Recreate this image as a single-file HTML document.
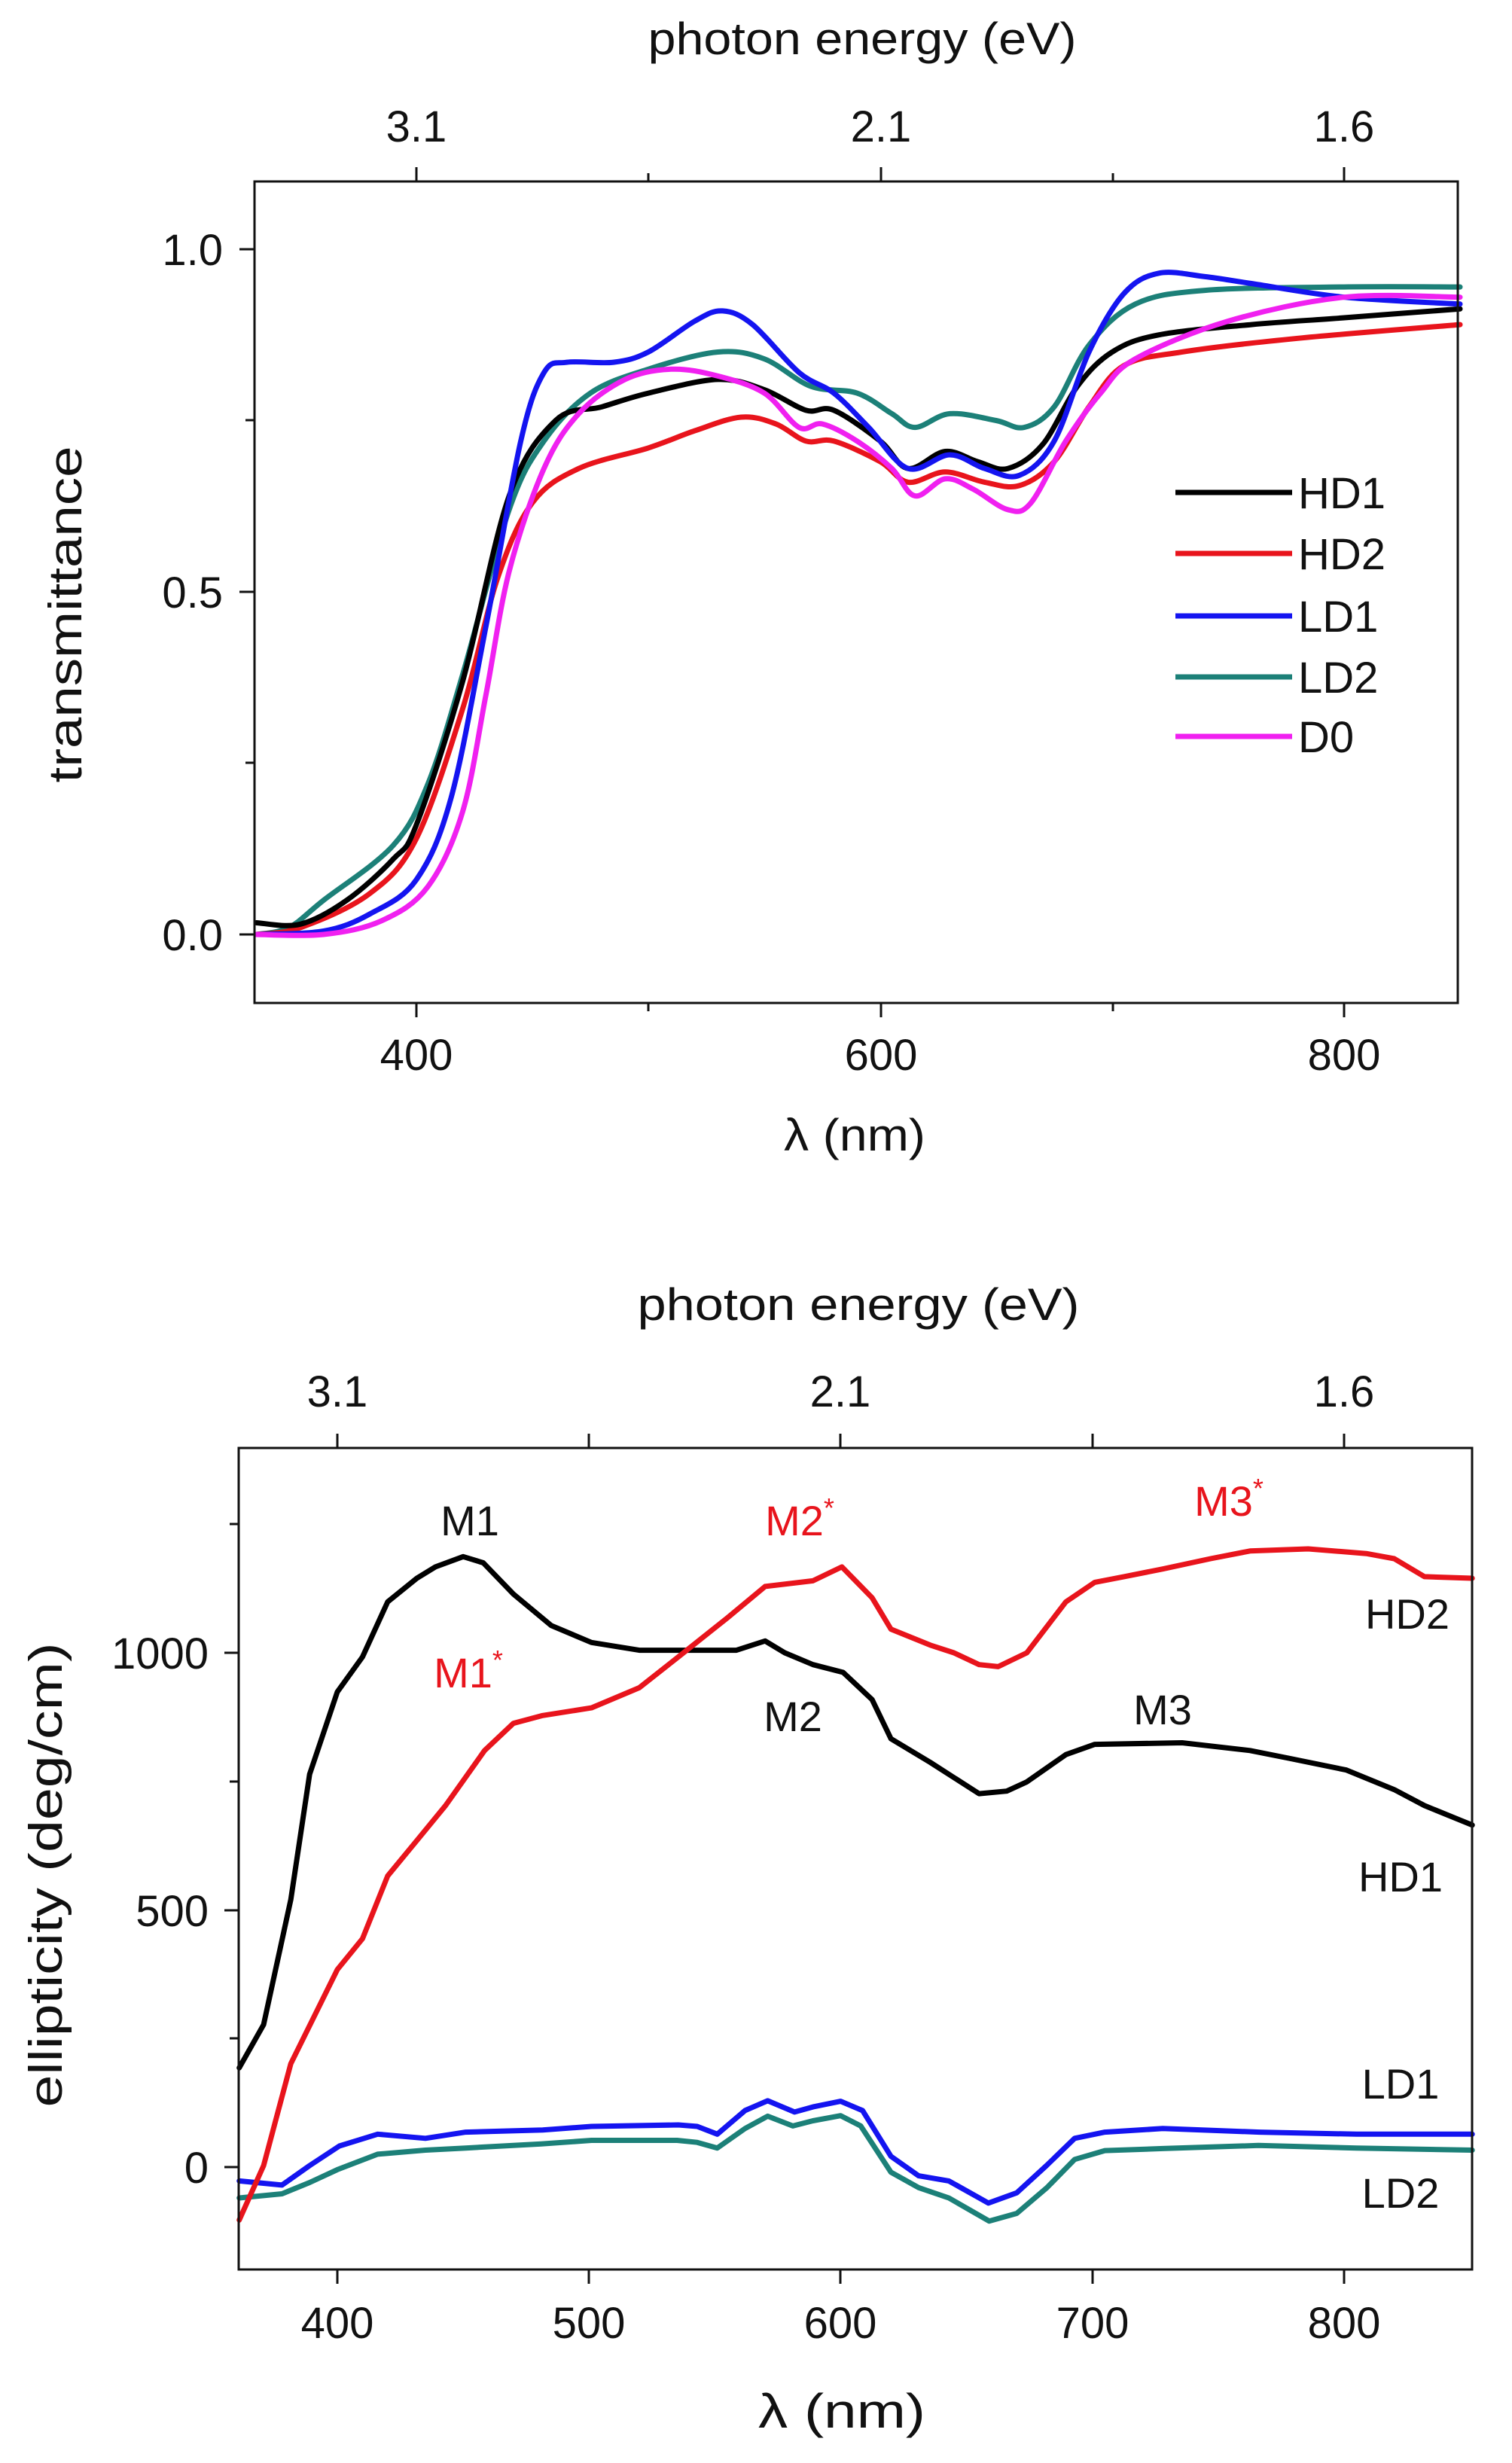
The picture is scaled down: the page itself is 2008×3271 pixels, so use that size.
<!DOCTYPE html>
<html><head><meta charset="utf-8"><style>
html,body{margin:0;padding:0;background:#fff;}
svg{display:block;}
text{font-family:"Liberation Sans",Arial,sans-serif;fill:#111;}
</style></head><body>
<svg id="s" width="2008" height="3271" viewBox="0 0 2008 3271" xmlns="http://www.w3.org/2000/svg">
<rect width="2008" height="3271" fill="#fff"/>
<!-- TOP CHART -->
<text x="1145" y="72" font-size="60" text-anchor="middle" textLength="569" lengthAdjust="spacingAndGlyphs">photon energy (eV)</text>
<text x="553" y="188" font-size="58" text-anchor="middle">3.1</text>
<text x="1170" y="188" font-size="58" text-anchor="middle">2.1</text>
<text x="1785" y="188" font-size="58" text-anchor="middle">1.6</text>
<g stroke="#111" stroke-width="3">
<line x1="553" y1="222" x2="553" y2="241"/><line x1="861" y1="230" x2="861" y2="241"/><line x1="1170" y1="222" x2="1170" y2="241"/><line x1="1478" y1="230" x2="1478" y2="241"/><line x1="1785" y1="222" x2="1785" y2="241"/>
<line x1="553" y1="1332" x2="553" y2="1351"/><line x1="861" y1="1332" x2="861" y2="1343"/><line x1="1170" y1="1332" x2="1170" y2="1351"/><line x1="1478" y1="1332" x2="1478" y2="1343"/><line x1="1785" y1="1332" x2="1785" y2="1351"/>
<line x1="318" y1="331" x2="338" y2="331"/><line x1="326" y1="558" x2="338" y2="558"/><line x1="318" y1="786" x2="338" y2="786"/><line x1="326" y1="1013" x2="338" y2="1013"/><line x1="318" y1="1241" x2="338" y2="1241"/>
</g>
<text x="296" y="352" font-size="58" text-anchor="end">1.0</text>
<text x="296" y="807" font-size="58" text-anchor="end">0.5</text>
<text x="296" y="1262" font-size="58" text-anchor="end">0.0</text>
<text x="553" y="1421" font-size="58" text-anchor="middle">400</text>
<text x="1170" y="1421" font-size="58" text-anchor="middle">600</text>
<text x="1785" y="1421" font-size="58" text-anchor="middle">800</text>
<text x="1135" y="1528" font-size="60" text-anchor="middle" textLength="188" lengthAdjust="spacingAndGlyphs">λ (nm)</text>
<text transform="translate(108,816) rotate(-90)" font-size="62" text-anchor="middle" textLength="447" lengthAdjust="spacingAndGlyphs">transmittance</text>
<g id="topcurves"></g>
<rect x="338" y="241" width="1598" height="1091" fill="none" stroke="#111" stroke-width="3"/>
<g stroke-width="7">
<line x1="1561" y1="654" x2="1716" y2="654" stroke="#000"/>
<line x1="1561" y1="735" x2="1716" y2="735" stroke="#e8141c"/>
<line x1="1561" y1="818" x2="1716" y2="818" stroke="#1414f0"/>
<line x1="1561" y1="899" x2="1716" y2="899" stroke="#1c8078"/>
<line x1="1561" y1="978" x2="1716" y2="978" stroke="#f020f0"/>
</g>
<g font-size="58">
<text x="1724" y="675">HD1</text><text x="1724" y="756">HD2</text><text x="1724" y="839">LD1</text><text x="1724" y="920">LD2</text><text x="1724" y="999">D0</text>
</g>

<!-- BOTTOM CHART -->
<text x="1140" y="1753" font-size="60" text-anchor="middle" textLength="587" lengthAdjust="spacingAndGlyphs">photon energy (eV)</text>
<text x="448" y="1868" font-size="58" text-anchor="middle">3.1</text>
<text x="1116" y="1868" font-size="58" text-anchor="middle">2.1</text>
<text x="1785" y="1868" font-size="58" text-anchor="middle">1.6</text>
<g stroke="#111" stroke-width="3">
<line x1="448" y1="1904" x2="448" y2="1923"/><line x1="782" y1="1904" x2="782" y2="1923"/><line x1="1116" y1="1904" x2="1116" y2="1923"/><line x1="1451" y1="1904" x2="1451" y2="1923"/><line x1="1785" y1="1904" x2="1785" y2="1923"/>
<line x1="448" y1="3014" x2="448" y2="3033"/><line x1="782" y1="3014" x2="782" y2="3033"/><line x1="1116" y1="3014" x2="1116" y2="3033"/><line x1="1451" y1="3014" x2="1451" y2="3033"/><line x1="1785" y1="3014" x2="1785" y2="3033"/>
<line x1="298" y1="2878" x2="317" y2="2878"/><line x1="305" y1="2707" x2="317" y2="2707"/><line x1="298" y1="2537" x2="317" y2="2537"/><line x1="305" y1="2366" x2="317" y2="2366"/><line x1="298" y1="2195" x2="317" y2="2195"/><line x1="305" y1="2024" x2="317" y2="2024"/>
</g>
<text x="277" y="2216" font-size="58" text-anchor="end">1000</text>
<text x="277" y="2558" font-size="58" text-anchor="end">500</text>
<text x="277" y="2899" font-size="58" text-anchor="end">0</text>
<text x="448" y="3105" font-size="58" text-anchor="middle">400</text>
<text x="782" y="3105" font-size="58" text-anchor="middle">500</text>
<text x="1116" y="3105" font-size="58" text-anchor="middle">600</text>
<text x="1451" y="3105" font-size="58" text-anchor="middle">700</text>
<text x="1785" y="3105" font-size="58" text-anchor="middle">800</text>
<text x="1118" y="3224" font-size="64" text-anchor="middle" textLength="222" lengthAdjust="spacingAndGlyphs">λ (nm)</text>
<text transform="translate(82,2490) rotate(-90)" font-size="62" text-anchor="middle" textLength="617" lengthAdjust="spacingAndGlyphs">ellipticity (deg/cm)</text>
<g id="botcurves"></g>
<rect x="317" y="1923" width="1638" height="1091" fill="none" stroke="#111" stroke-width="3"/>
<g font-size="56">
<text x="624" y="2039" text-anchor="middle">M1</text>
<text x="1062" y="2039" text-anchor="middle" style="fill:#e8141c">M2<tspan font-size="36" dy="-24">*</tspan></text>
<text x="1632" y="2013" text-anchor="middle" style="fill:#e8141c">M3<tspan font-size="36" dy="-24">*</tspan></text>
<text x="1869" y="2163" text-anchor="middle">HD2</text>
<text x="622" y="2241" text-anchor="middle" style="fill:#e8141c">M1<tspan font-size="36" dy="-24">*</tspan></text>
<text x="1053" y="2299" text-anchor="middle">M2</text>
<text x="1544" y="2290" text-anchor="middle">M3</text>
<text x="1860" y="2512" text-anchor="middle">HD1</text>
<text x="1860" y="2787" text-anchor="middle">LD1</text>
<text x="1860" y="2932" text-anchor="middle">LD2</text>
</g>
</svg>
<script>
(function(){
var NS="http://www.w3.org/2000/svg";
function smooth(pts){
 var d="M"+pts[0][0].toFixed(1)+","+pts[0][1].toFixed(1);
 for(var i=0;i<pts.length-1;i++){
  var p0=pts[i-1]||pts[i],p1=pts[i],p2=pts[i+1],p3=pts[i+2]||p2;
  var c1x=p1[0]+(p2[0]-p0[0])/6,c1y=p1[1]+(p2[1]-p0[1])/6;
  var c2x=p2[0]-(p3[0]-p1[0])/6,c2y=p2[1]-(p3[1]-p1[1])/6;
  d+=" C"+c1x.toFixed(1)+","+c1y.toFixed(1)+" "+c2x.toFixed(1)+","+c2y.toFixed(1)+" "+p2[0].toFixed(1)+","+p2[1].toFixed(1);
 }
 return d;
}
function lin(pts){return "M"+pts.map(function(p){return p[0].toFixed(1)+","+p[1].toFixed(1)}).join(" L");}
function add(g,d,col,w){var p=document.createElementNS(NS,"path");p.setAttribute("d",d);p.setAttribute("fill","none");p.setAttribute("stroke",col);p.setAttribute("stroke-width",w);p.setAttribute("stroke-linejoin","round");p.setAttribute("stroke-linecap","round");g.appendChild(p);}
var tx=function(l){return 553+(l-400)*3.08;}, ty=function(v){return 1241-v*910;};
var top={
"#1c8078":[[331,0],[345,0.01],[360,0.05],[390,0.13],[405,0.22],[420,0.38],[440,0.62],[455,0.72],[475,0.79],[500,0.825],[530,0.85],[550,0.84],[570,0.80],[590,0.79],[605,0.76],[615,0.74],[630,0.76],[650,0.75],[662,0.74],[675,0.77],[690,0.86],[710,0.92],[740,0.94],[800,0.945],[850,0.945]],
"#e8141c":[[331,0],[350,0.01],[380,0.06],[400,0.14],[420,0.33],[435,0.52],[450,0.63],[470,0.68],[500,0.71],[520,0.735],[540,0.755],[555,0.745],[568,0.72],[580,0.72],[600,0.69],[612,0.66],[628,0.675],[645,0.66],[660,0.655],[675,0.69],[690,0.77],[705,0.83],[730,0.85],[780,0.87],[850,0.89]],
"#000":[[331,0.017],[350,0.015],[370,0.05],[390,0.11],[400,0.16],[420,0.37],[440,0.64],[460,0.75],[480,0.77],[500,0.79],[530,0.81],[550,0.795],[568,0.765],[580,0.765],[600,0.72],[612,0.68],[628,0.705],[642,0.69],[655,0.68],[670,0.715],[685,0.80],[700,0.85],[720,0.875],[760,0.89],[800,0.90],[850,0.913]],
"#1414f0":[[331,0],[360,0.005],[380,0.03],[400,0.08],[415,0.20],[430,0.45],[445,0.72],[455,0.82],[465,0.835],[485,0.835],[500,0.85],[520,0.895],[532,0.91],[545,0.89],[565,0.82],[580,0.79],[595,0.74],[612,0.68],[630,0.70],[645,0.68],[660,0.67],[675,0.72],[690,0.85],[705,0.935],[720,0.965],[740,0.96],[760,0.95],[800,0.93],[850,0.92]],
"#f020f0":[[331,0],[360,0],[385,0.02],[405,0.07],[420,0.18],[430,0.35],[440,0.53],[455,0.68],[470,0.76],[490,0.81],[510,0.825],[530,0.815],[550,0.79],[565,0.74],[575,0.745],[590,0.72],[605,0.68],[615,0.64],[628,0.665],[640,0.65],[655,0.62],[665,0.63],[680,0.72],[695,0.79],[710,0.84],[750,0.895],[800,0.93],[850,0.93]]
};
var g=document.getElementById("topcurves");
for(var k in top){add(g,smooth(top[k].map(function(p){return [tx(p[0]),ty(p[1])];})),k,7);}
var bx=function(l){return 448+(l-400)*3.342;}, by=function(v){return 2878-v*0.683;};
var bot={
"#1c8078":[[361,-60],[378,-52],[389,-30],[400,-5],[416,25],[435,33],[451,37],[481,45],[501,52],[535,52],[543,48],[551,37],[562,75],[571,99],[581,80],[589,90],[600,100],[608,80],[620,-10],[631,-40],[643,-60],[659,-105],[670,-90],[682,-40],[693,15],[705,32],[728,36],[766,42],[805,37],[851,33]],
"#1414f0":[[361,-27],[378,-35],[389,3],[400.8,41],[416,64],[435,56],[451,68],[481.6,72],[501,79],[535.5,82],[543,79],[551,64],[562,110],[571,129],[581.7,107],[589,117],[600,128],[608.7,110],[620,21],[631,-17],[643,-27],[658.7,-70],[670,-50],[681.8,3],[693,56],[705,68],[728,75],[766.5,68],[805,64],[851,64]],
"#000":[[361,193],[370.7,277],[381.5,520],[389,764],[400,924],[410,992],[420,1099],[431.6,1145],[439,1167],[450,1187],[458,1175],[470,1114],[485,1053],[501,1020],[520,1005],[558.6,1005],[570,1023],[577.8,1000],[589,977],[601,962],[612.5,909],[620,833],[635.6,787],[655,726],[666,731],[674,749],[689.5,802],[701,822],[735.7,825],[762.7,810],[778,795],[801,772],[820,734],[832,703],[851,665]],
"#e8141c":[[361,-103],[370.7,3],[381.5,201],[400,384],[410,444],[420,566],[431.6,635],[443,703],[458.5,810],[470,863],[481.6,878],[501,893],[520,932],[535.5,992],[555,1068],[570,1129],[589,1140],[600.5,1167],[612.5,1107],[620,1046],[635.6,1015],[645,1000],[655,977],[662.6,973],[674,1000],[689.5,1099],[701,1137],[712.6,1148],[728,1163],[747,1183],[762.7,1198],[785.8,1202],[808.9,1193],[820,1183],[832,1148],[851,1145]]
};
var g2=document.getElementById("botcurves");
for(var k2 in bot){add(g2,lin(bot[k2].map(function(p){return [bx(p[0]),by(p[1])];})),k2,7);}
})();
</script>
</body></html>
